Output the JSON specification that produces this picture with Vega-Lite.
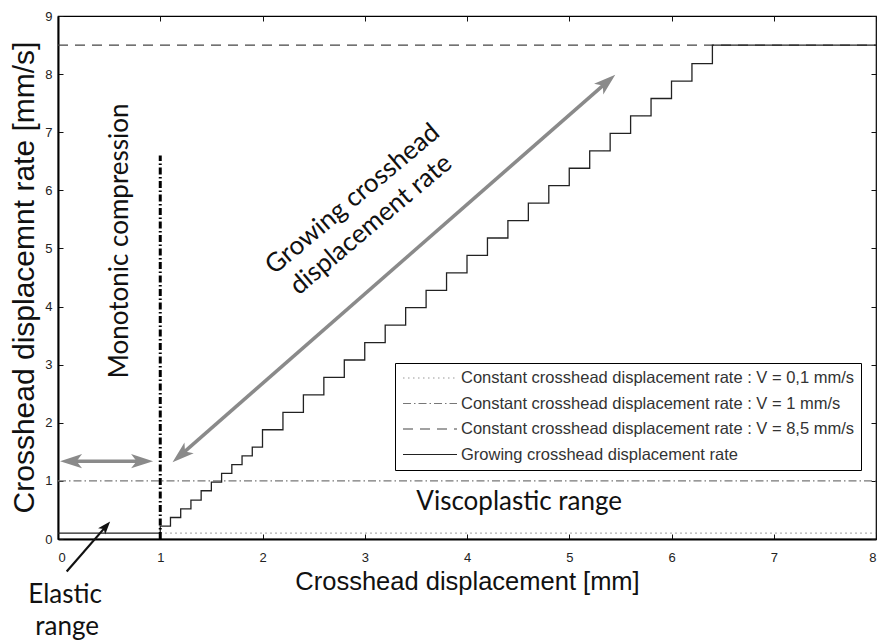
{
  "$schema": "https://vega.github.io/schema/vega-lite/v6.json",
  "width": 818,
  "height": 523,
  "autosize": {"type": "none"},
  "padding": {"left": 58, "top": 16, "right": 1, "bottom": 103},
  "background": "white",
  "config": {
    "view": {"stroke": "black", "strokeWidth": 1.2},
    "axis": {"grid": false, "labelFont": "Liberation Sans", "labelFontSize": 13, "labelColor": "#222", "tickColor": "#111", "tickWidth": 1, "tickSize": -5, "titleFont": "Liberation Sans", "titleFontWeight": "normal", "titleColor": "#111"}
  },
  "datasets": {
    "lines": [
      {"series": "Constant crosshead displacement rate : V = 0,1 mm/s", "x": 1, "y": 0.1},
      {"series": "Constant crosshead displacement rate : V = 0,1 mm/s", "x": 8, "y": 0.1},
      {"series": "Constant crosshead displacement rate : V = 1 mm/s", "x": 0, "y": 1},
      {"series": "Constant crosshead displacement rate : V = 1 mm/s", "x": 8, "y": 1},
      {"series": "Constant crosshead displacement rate : V = 8,5 mm/s", "x": 0, "y": 8.5},
      {"series": "Constant crosshead displacement rate : V = 8,5 mm/s", "x": 8, "y": 8.5},
      {"series": "Growing crosshead displacement rate", "x": 0, "y": 0.1},
      {"series": "Growing crosshead displacement rate", "x": 1, "y": 0.22},
      {"series": "Growing crosshead displacement rate", "x": 1.1, "y": 0.37},
      {"series": "Growing crosshead displacement rate", "x": 1.2, "y": 0.52},
      {"series": "Growing crosshead displacement rate", "x": 1.3, "y": 0.67},
      {"series": "Growing crosshead displacement rate", "x": 1.4, "y": 0.83},
      {"series": "Growing crosshead displacement rate", "x": 1.5, "y": 0.98},
      {"series": "Growing crosshead displacement rate", "x": 1.6, "y": 1.13},
      {"series": "Growing crosshead displacement rate", "x": 1.7, "y": 1.28},
      {"series": "Growing crosshead displacement rate", "x": 1.8, "y": 1.43},
      {"series": "Growing crosshead displacement rate", "x": 1.9, "y": 1.58},
      {"series": "Growing crosshead displacement rate", "x": 2.0, "y": 1.88},
      {"series": "Growing crosshead displacement rate", "x": 2.2, "y": 2.18},
      {"series": "Growing crosshead displacement rate", "x": 2.4, "y": 2.48},
      {"series": "Growing crosshead displacement rate", "x": 2.6, "y": 2.78},
      {"series": "Growing crosshead displacement rate", "x": 2.8, "y": 3.08},
      {"series": "Growing crosshead displacement rate", "x": 3.0, "y": 3.38},
      {"series": "Growing crosshead displacement rate", "x": 3.2, "y": 3.68},
      {"series": "Growing crosshead displacement rate", "x": 3.4, "y": 3.98},
      {"series": "Growing crosshead displacement rate", "x": 3.6, "y": 4.28},
      {"series": "Growing crosshead displacement rate", "x": 3.8, "y": 4.58},
      {"series": "Growing crosshead displacement rate", "x": 4.0, "y": 4.88},
      {"series": "Growing crosshead displacement rate", "x": 4.2, "y": 5.18},
      {"series": "Growing crosshead displacement rate", "x": 4.4, "y": 5.48},
      {"series": "Growing crosshead displacement rate", "x": 4.6, "y": 5.78},
      {"series": "Growing crosshead displacement rate", "x": 4.8, "y": 6.08},
      {"series": "Growing crosshead displacement rate", "x": 5.0, "y": 6.38},
      {"series": "Growing crosshead displacement rate", "x": 5.2, "y": 6.68},
      {"series": "Growing crosshead displacement rate", "x": 5.4, "y": 6.98},
      {"series": "Growing crosshead displacement rate", "x": 5.6, "y": 7.28},
      {"series": "Growing crosshead displacement rate", "x": 5.8, "y": 7.58},
      {"series": "Growing crosshead displacement rate", "x": 6.0, "y": 7.88},
      {"series": "Growing crosshead displacement rate", "x": 6.2, "y": 8.18},
      {"series": "Growing crosshead displacement rate", "x": 6.4, "y": 8.5},
      {"series": "Growing crosshead displacement rate", "x": 8, "y": 8.5}
    ],
    "vline": [{"x": 1, "y": 0, "y2": 6.6}],
    "grayShafts": [
      {"arrow": "h", "x": 0.17, "y": 1.34},
      {"arrow": "h", "x": 0.78, "y": 1.34},
      {"arrow": "d", "x": 1.23, "y": 1.49},
      {"arrow": "d", "x": 5.34, "y": 7.82}
    ],
    "grayHeads": [
      {"x": 0.02, "y": 1.34, "angle": 270},
      {"x": 0.93, "y": 1.34, "angle": 90},
      {"x": 1.12, "y": 1.32, "angle": 228.9},
      {"x": 5.45, "y": 7.99, "angle": 48.9}
    ],
    "blackShaft": [{"x": 0.085, "y": -0.56}, {"x": 0.452, "y": 0.183}],
    "blackHead": [{"x": 0.51, "y": 0.3, "angle": 40.9}],
    "textFlat": [
      {"x": 4.51, "y": 0.64, "label": "Viscoplastic range"},
      {"x": 0.07, "y": -0.96, "label": "Elastic"},
      {"x": 0.09, "y": -1.51, "label": "range"}
    ],
    "textVert": [{"x": 0.61, "y": 5.13, "label": "Monotonic  compression"}],
    "textDiag": [
      {"x": 2.88, "y": 5.85, "label": "Growing crosshead"},
      {"x": 3.06, "y": 5.41, "label": "displacement rate"}
    ]
  },
  "layer": [
    {
      "data": {"name": "lines"},
      "mark": {"type": "line", "interpolate": "step-after", "strokeWidth": 1.3},
      "encoding": {
        "x": {"field": "x", "type": "quantitative", "scale": {"domain": [0, 8], "nice": false},
          "axis": {"orient": "bottom", "values": [0,1,2,3,4,5,6,7,8], "format": "d", "domain": true, "domainColor": "black", "domainWidth": 2, "labelPadding": 17, "title": "Crosshead displacement [mm]", "titleFontSize": 25.5, "titleBaseline": "middle", "titleY": 42}},
        "y": {"field": "y", "type": "quantitative", "scale": {"domain": [0, 9], "nice": false},
          "axis": {"orient": "left", "values": [0,1,2,3,4,5,6,7,8,9], "format": "d", "domain": true, "domainColor": "black", "domainWidth": 2, "labelPadding": 11, "title": "Crosshead displacemnt rate [mm/s]", "titleFontSize": 30, "titleBaseline": "middle", "titleAngle": 270, "titleX": -34, "titleY": 261}},
        "color": {"field": "series", "type": "nominal",
          "scale": {"domain": ["Constant crosshead displacement rate : V = 0,1 mm/s", "Constant crosshead displacement rate : V = 1 mm/s", "Constant crosshead displacement rate : V = 8,5 mm/s", "Growing crosshead displacement rate"], "range": ["#999999", "#777777", "#444444", "#222222"]},
          "legend": {"title": null, "orient": "none", "legendX": 337, "legendY": 347, "strokeColor": "black", "fillColor": "white", "padding": 7, "symbolType": "stroke", "symbolSize": 2916, "symbolStrokeWidth": 1.2, "clipHeight": 16, "rowPadding": 8.5, "labelFont": "Liberation Sans", "labelFontSize": 16.5, "labelColor": "#333", "labelOffset": 3, "labelLimit": 0}},
        "strokeDash": {"field": "series", "type": "nominal",
          "scale": {"domain": ["Constant crosshead displacement rate : V = 0,1 mm/s", "Constant crosshead displacement rate : V = 1 mm/s", "Constant crosshead displacement rate : V = 8,5 mm/s", "Growing crosshead displacement rate"], "range": [[1.5, 3.5], [8, 3, 1.5, 3], [10, 7], [1, 0]]},
          "legend": {"title": null, "orient": "none", "legendX": 337, "legendY": 347, "strokeColor": "black", "fillColor": "white", "padding": 7, "symbolType": "stroke", "symbolSize": 2916, "symbolStrokeWidth": 1.2, "clipHeight": 16, "rowPadding": 8.5, "labelFont": "Liberation Sans", "labelFontSize": 16.5, "labelColor": "#333", "labelOffset": 3, "labelLimit": 0}}
      }
    },
    {
      "data": {"name": "vline"},
      "mark": {"type": "rule", "color": "black", "strokeWidth": 3, "strokeDash": [7, 2.5, 1.5, 2.5]},
      "encoding": {
        "x": {"field": "x", "type": "quantitative", "scale": {"domain": [0, 8], "nice": false},
          "axis": {"orient": "top", "values": [0,1,2,3,4,5,6,7,8], "labels": false, "domain": false, "title": null}},
        "y": {"field": "y", "type": "quantitative", "scale": {"domain": [0, 9], "nice": false},
          "axis": {"orient": "right", "values": [0,1,2,3,4,5,6,7,8,9], "labels": false, "domain": false, "title": null}},
        "y2": {"field": "y2"}
      }
    },
    {
      "data": {"name": "grayShafts"},
      "mark": {"type": "line", "color": "#8a8a8a", "strokeWidth": 3.5},
      "encoding": {
        "x": {"field": "x", "type": "quantitative", "scale": {"domain": [0, 8], "nice": false}, "axis": null},
        "y": {"field": "y", "type": "quantitative", "scale": {"domain": [0, 9], "nice": false}, "axis": null},
        "detail": {"field": "arrow"}
      }
    },
    {
      "data": {"name": "grayHeads"},
      "mark": {"type": "point", "shape": "M0,0L0.32,1L0,0.75L-0.32,1Z", "filled": true, "color": "#8a8a8a", "opacity": 1, "size": 1936},
      "encoding": {
        "x": {"field": "x", "type": "quantitative", "scale": {"domain": [0, 8], "nice": false}, "axis": null},
        "y": {"field": "y", "type": "quantitative", "scale": {"domain": [0, 9], "nice": false}, "axis": null},
        "angle": {"field": "angle", "type": "quantitative", "scale": null}
      }
    },
    {
      "data": {"name": "blackShaft"},
      "mark": {"type": "line", "color": "#111", "strokeWidth": 2.2},
      "encoding": {
        "x": {"field": "x", "type": "quantitative", "scale": {"domain": [0, 8], "nice": false}, "axis": null},
        "y": {"field": "y", "type": "quantitative", "scale": {"domain": [0, 9], "nice": false}, "axis": null}
      }
    },
    {
      "data": {"name": "blackHead"},
      "mark": {"type": "point", "shape": "M0,0L0.36,1L0,0.75L-0.36,1Z", "filled": true, "color": "#111", "opacity": 1, "size": 676},
      "encoding": {
        "x": {"field": "x", "type": "quantitative", "scale": {"domain": [0, 8], "nice": false}, "axis": null},
        "y": {"field": "y", "type": "quantitative", "scale": {"domain": [0, 9], "nice": false}, "axis": null},
        "angle": {"field": "angle", "type": "quantitative", "scale": null}
      }
    },
    {
      "data": {"name": "textFlat"},
      "mark": {"type": "text", "font": "Lato", "fontSize": 26, "color": "#111", "align": "center", "baseline": "middle"},
      "encoding": {
        "x": {"field": "x", "type": "quantitative", "scale": {"domain": [0, 8], "nice": false}, "axis": null},
        "y": {"field": "y", "type": "quantitative", "scale": {"domain": [0, 9], "nice": false}, "axis": null},
        "text": {"field": "label"}
      }
    },
    {
      "data": {"name": "textVert"},
      "mark": {"type": "text", "font": "Lato", "fontSize": 26, "color": "#111", "align": "center", "baseline": "middle", "angle": 270},
      "encoding": {
        "x": {"field": "x", "type": "quantitative", "scale": {"domain": [0, 8], "nice": false}, "axis": null},
        "y": {"field": "y", "type": "quantitative", "scale": {"domain": [0, 9], "nice": false}, "axis": null},
        "text": {"field": "label"}
      }
    },
    {
      "data": {"name": "textDiag"},
      "mark": {"type": "text", "font": "Lato", "fontSize": 26, "color": "#111", "align": "center", "baseline": "middle", "angle": 320},
      "encoding": {
        "x": {"field": "x", "type": "quantitative", "scale": {"domain": [0, 8], "nice": false}, "axis": null},
        "y": {"field": "y", "type": "quantitative", "scale": {"domain": [0, 9], "nice": false}, "axis": null},
        "text": {"field": "label"}
      }
    }
  ],
  "resolve": {"axis": {"x": "independent", "y": "independent"}}
}
